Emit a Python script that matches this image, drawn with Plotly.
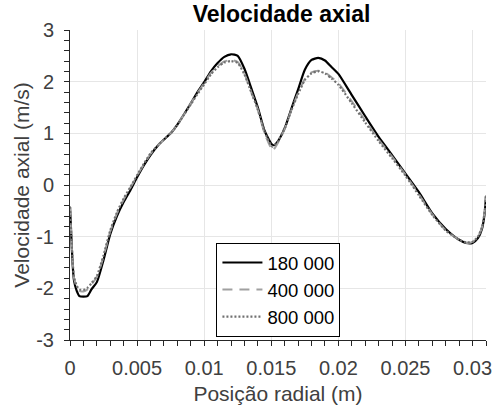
import plotly.graph_objects as go

# Radial positions (m) and axial velocity (m/s) for each mesh size
x_180k = [0, 0.0001, 0.0002, 0.0003, 0.0005, 0.0007, 0.001, 0.0013, 0.0016, 0.002,
          0.0025, 0.003, 0.0035, 0.004, 0.0045, 0.005, 0.0055, 0.006, 0.0066, 0.007,
          0.0075, 0.008, 0.0085, 0.009, 0.0095, 0.01, 0.0105, 0.011, 0.0115, 0.012,
          0.0125, 0.013, 0.0135, 0.014, 0.0145, 0.015, 0.0152, 0.0155, 0.016, 0.0165,
          0.017, 0.0175, 0.018, 0.0185, 0.019, 0.0195, 0.02, 0.021, 0.022, 0.023,
          0.024, 0.025, 0.026, 0.027, 0.028, 0.029, 0.0295, 0.03, 0.0304, 0.0307,
          0.0309, 0.031]
v_180k = [-0.42, -1.0, -1.55, -1.85, -2.05, -2.15, -2.16, -2.15, -2.02, -1.88,
          -1.45, -0.95, -0.6, -0.33, -0.1, 0.15, 0.38, 0.58, 0.78, 0.88,
          1.0, 1.17, 1.37, 1.58, 1.8, 1.99, 2.2, 2.36, 2.48, 2.53,
          2.5, 2.25, 1.88, 1.5, 1.05, 0.8, 0.77, 0.85, 1.1, 1.48,
          1.85, 2.23, 2.42, 2.46, 2.41, 2.28, 2.15, 1.74, 1.33, 0.93,
          0.58, 0.22, -0.14, -0.55, -0.85, -1.06, -1.12, -1.12, -1.03, -0.85,
          -0.55, -0.22]

x_400k = [0, 0.0001, 0.0002, 0.0003, 0.0005, 0.0007, 0.001, 0.0013, 0.0016, 0.002,
          0.0025, 0.003, 0.0035, 0.004, 0.0045, 0.005, 0.0055, 0.006, 0.0066, 0.007,
          0.0075, 0.008, 0.0085, 0.009, 0.0095, 0.01, 0.0105, 0.011, 0.0115, 0.012,
          0.0125, 0.013, 0.0135, 0.014, 0.0145, 0.015, 0.0151, 0.0155, 0.016, 0.0165,
          0.017, 0.0175, 0.018, 0.0185, 0.019, 0.0195, 0.02, 0.021, 0.022, 0.023,
          0.024, 0.025, 0.026, 0.027, 0.028, 0.029, 0.0295, 0.03, 0.0304, 0.0307,
          0.0309, 0.031]
v_400k = [-0.42, -1.0, -1.5, -1.8, -1.97, -2.05, -2.06, -2.02, -1.92, -1.78,
          -1.38, -0.9, -0.55, -0.28, -0.05, 0.18, 0.4, 0.6, 0.78, 0.88,
          1.0, 1.17, 1.37, 1.58, 1.78, 1.97, 2.17, 2.3, 2.39, 2.42,
          2.38, 2.15, 1.8, 1.45, 1.0, 0.7, 0.66, 0.82, 1.08, 1.45,
          1.78, 2.05, 2.18, 2.21, 2.18, 2.08, 1.97, 1.62, 1.25, 0.88,
          0.55, 0.2, -0.18, -0.57, -0.88, -1.06, -1.12, -1.1, -1.0, -0.82,
          -0.52, -0.2]

x_800k = x_400k
v_800k = [-0.42, -0.98, -1.48, -1.78, -1.95, -2.02, -2.03, -1.99, -1.9, -1.76,
          -1.36, -0.88, -0.53, -0.26, -0.04, 0.19, 0.41, 0.61, 0.78, 0.88,
          1.0, 1.16, 1.36, 1.56, 1.76, 1.95, 2.14, 2.28, 2.37, 2.4,
          2.36, 2.14, 1.8, 1.46, 1.03, 0.76, 0.74, 0.85, 1.1, 1.45,
          1.76, 2.03, 2.16, 2.2, 2.16, 2.06, 1.94, 1.58, 1.21, 0.85,
          0.52, 0.18, -0.2, -0.58, -0.88, -1.06, -1.11, -1.1, -1.0, -0.82,
          -0.52, -0.2]

x_ticks = [0, 0.005, 0.01, 0.015, 0.02, 0.025, 0.03]
x_labels = ["0", "0.005", "0.01", "0.015", "0.02", "0.025", "0.03"]
y_ticks = [-3, -2, -1, 0, 1, 2, 3]
y_labels = ["-3", "-2", "-1", "0", "1", "2", "3"]

FONT = "Liberation Sans, Arial, sans-serif"
TXT = "#404040"
AX = "#262626"

fig = go.Figure()
fig.add_trace(go.Scatter(x=x_180k, y=v_180k, mode="lines", name="180 000",
                         line=dict(color="black", width=2.2, shape="spline", smoothing=0.6)))
fig.add_trace(go.Scatter(x=x_400k, y=v_400k, mode="lines", name="400 000",
                         line=dict(color="#a0a0a0", width=2, dash="10px,7px",
                                   shape="spline", smoothing=0.6)))
fig.add_trace(go.Scatter(x=x_800k, y=v_800k, mode="lines", name="800 000",
                         line=dict(color="#707070", width=2.2, dash="2px,2px",
                                   shape="spline", smoothing=0.6)))

axis_common = dict(
    showgrid=True, gridcolor="#e6e6e6", gridwidth=1,
    showline=True, linecolor=AX, linewidth=1,
    ticks="outside", ticklen=5, tickcolor=AX, tickwidth=1,
    tickfont=dict(family=FONT, size=20, color=TXT),
    zeroline=False, mirror=False,
)

fig.update_layout(
    width=500, height=412,
    margin=dict(l=70, r=8, t=30, b=72),
    paper_bgcolor="white", plot_bgcolor="white",
    font=dict(family=FONT, color=TXT),
    title=dict(text="<b>Velocidade axial</b>", x=0.563, xanchor="center",
               yref="container", y=0.985, yanchor="top",
               font=dict(family=FONT, size=23, color="black")),
    xaxis=dict(range=[0, 0.031], tickvals=x_ticks, ticktext=x_labels,
               ticklabelstandoff=5,
               title=dict(text="Posição radial (m)", font=dict(family=FONT, size=21, color=TXT),
                          standoff=8),
               minor=dict(dtick=0.001, tick0=0, ticks="outside", ticklen=5,
                          tickcolor=AX, showgrid=False),
               **axis_common),
    yaxis=dict(range=[-3, 3], tickvals=y_ticks, ticktext=y_labels,
               ticklabelstandoff=6,
               title=dict(text="Velocidade axial (m/s)", font=dict(family=FONT, size=21, color=TXT),
                          standoff=0),
               minor=dict(dtick=0.2, tick0=0, ticks="outside", ticklen=5,
                          tickcolor=AX, showgrid=False),
               **axis_common),
    legend=dict(x=0.352, y=0.313, xanchor="left", yanchor="top",
                bgcolor="white", bordercolor="black", borderwidth=1,
                font=dict(family=FONT, size=18.5, color="black"),
                tracegroupgap=0, itemwidth=40),
    showlegend=True,
)

fig.write_html("out.html")
